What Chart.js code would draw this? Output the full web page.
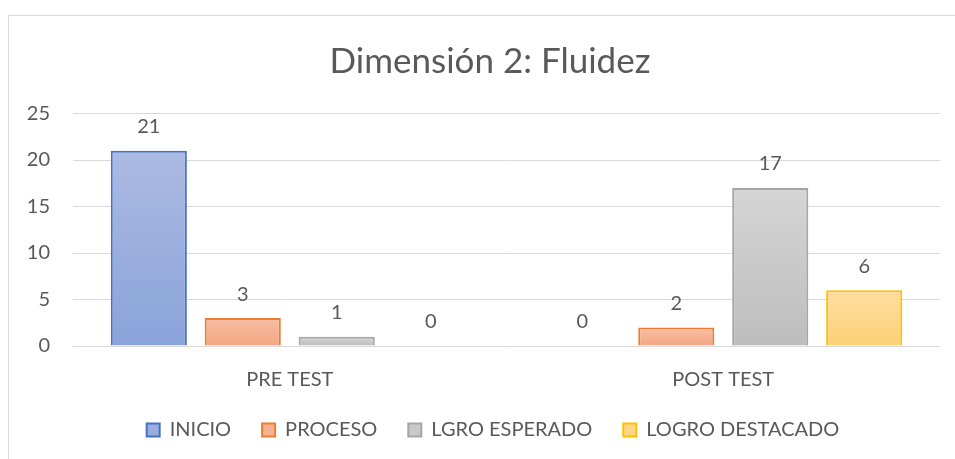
<!DOCTYPE html>
<html><head><meta charset="utf-8">
<script src="https://cdn.jsdelivr.net/npm/chart.js@4"></script>
<style>
html,body{margin:0;padding:0;background:#fff;overflow:hidden;}
#frame{position:absolute;left:8px;top:15px;width:960px;height:460px;border-left:1px solid #d9d9d9;border-top:1px solid #d9d9d9;}
#wrap{position:absolute;left:0;top:0;width:955px;height:459px;}
</style></head><body>
<div id="frame"></div>
<div id="wrap"><canvas id="c" width="955" height="459"></canvas></div>
<script>
const titleText = 'Dimensión 2: Fluidez';
const categories = ['PRE TEST', 'POST TEST'];
const seriesNames = ['INICIO', 'PROCESO', 'LGRO ESPERADO', 'LOGRO DESTACADO'];
const inicio = [21, 0];
const proceso = [3, 2];
const lgroEsperado = [1, 17];
const logroDestacado = [0, 6];
const yTicks = [0, 5, 10, 15, 20, 25];

const FONT = 'Lato';
const TXT = '#595959';

const styles = [
  {top: '#abbae3', bottom: '#8aa3d9', border: '#4472c4', legend: '#9aaedd'},
  {top: '#f7bea5', bottom: '#f4a680', border: '#ed7d31', legend: '#f5b292'},
  {top: '#d5d5d5', bottom: '#bdbdbd', border: '#a5a5a5', legend: '#c9c9c9'},
  {top: '#fedd9f', bottom: '#fdd077', border: '#ffc000', legend: '#fed68b'}
];

function grad(top, bottom) {
  return (ctx) => {
    const chart = ctx.chart;
    if (!chart.chartArea || ctx.type !== 'data' || !chart.scales.y) return bottom;
    const ys = chart.scales.y;
    const v = ctx.raw;
    const y0 = ys.getPixelForValue(0), y1 = ys.getPixelForValue(v);
    if (!isFinite(y1) || !isFinite(y0) || Math.abs(y0 - y1) < 0.5) return bottom;
    const g = chart.ctx.createLinearGradient(0, y1, 0, y0);
    g.addColorStop(0, top);
    g.addColorStop(1, bottom);
    return g;
  };
}

const seriesData = [inicio, proceso, lgroEsperado, logroDestacado];
const datasets = seriesNames.map((name, i) => ({
  label: name,
  data: seriesData[i],
  backgroundColor: grad(styles[i].top, styles[i].bottom),
  borderColor: styles[i].border,
  borderWidth: (ctx) => (ctx.raw === 0 ? 0 : 2),
  categoryPercentage: 0.867,
  barPercentage: 0.81
}));

const valueLabels = {
  id: 'valueLabels',
  afterDatasetsDraw(chart) {
    const c = chart.ctx;
    c.save();
    c.font = '20px ' + FONT;
    c.fillStyle = TXT;
    c.textAlign = 'center';
    c.textBaseline = 'middle';
    chart.data.datasets.forEach((ds, i) => {
      const meta = chart.getDatasetMeta(i);
      meta.data.forEach((bar, j) => {
        c.fillText(String(ds.data[j]), bar.x, bar.y - 24);
      });
    });
    c.restore();
  }
};

// Shift title and legend horizontally to the reference's centering
const shiftBoxes = {
  id: 'shiftBoxes',
  afterLayout(chart) {
    const l = chart.legend;
    if (l) { l.left += 23; l.right += 23; }
    const t = chart.titleBlock;
    if (t) { t.left += 20; t.right += 20; }
  }
};

new Chart(document.getElementById('c'), {
  type: 'bar',
  data: {labels: categories, datasets},
  plugins: [valueLabels, shiftBoxes],
  options: {
    responsive: false,
    animation: false,
    layout: {padding: {left: 0, right: 15, top: 0, bottom: 9}},
    plugins: {
      title: {
        display: true, text: titleText, color: TXT,
        font: {family: FONT, size: 35, weight: 'normal'},
        padding: {top: 41, bottom: 30.5}
      },
      legend: {
        position: 'bottom',
        labels: {
          boxWidth: 13, boxHeight: 13, padding: 31, color: TXT,
          font: {family: FONT, size: 20},
          generateLabels: () => seriesNames.map((n, i) => ({
            text: n, fillStyle: styles[i].legend, strokeStyle: styles[i].border,
            lineWidth: 2, fontColor: TXT, datasetIndex: i, hidden: false
          }))
        }
      },
      tooltip: {enabled: false}
    },
    scales: {
      x: {
        grid: {display: false, drawTicks: false},
        border: {display: false},
        ticks: {color: TXT, font: {family: FONT, size: 20}, padding: 22},
        afterFit: (s) => { s.height = 43; }
      },
      y: {
        min: 0, max: 25,
        afterBuildTicks: (s) => { s.ticks = yTicks.map(v => ({value: v})); },
        grid: {color: '#d9d9d9', lineWidth: 1, drawTicks: false},
        border: {display: false},
        ticks: {color: TXT, font: {family: FONT, size: 20}, padding: 23},
        afterFit: (s) => { s.width = 73; }
      }
    }
  }
});
</script>
</body></html>
